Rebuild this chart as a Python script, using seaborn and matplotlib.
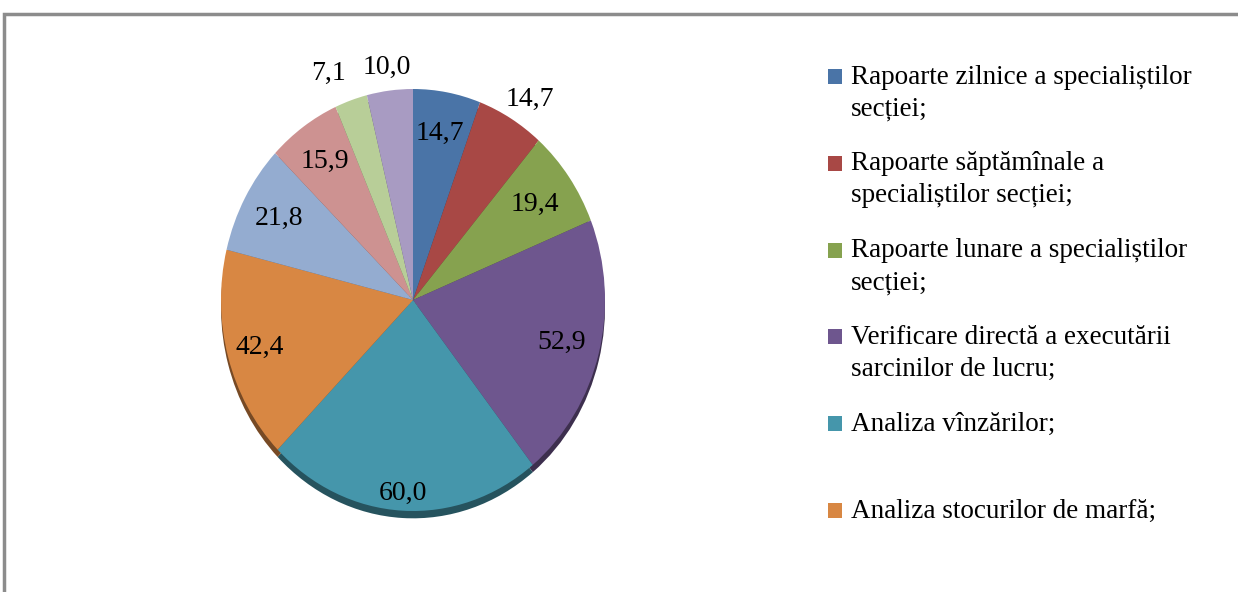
import numpy as np
import matplotlib
matplotlib.use("Agg")
import matplotlib.pyplot as plt
import seaborn as sns
from matplotlib.patches import Rectangle
from matplotlib.legend_handler import HandlerPatch

categories = [
    "Rapoarte zilnice a specialiștilor\nsecției;",
    "Rapoarte săptămînale a\nspecialiștilor secției;",
    "Rapoarte lunare a specialiștilor\nsecției;",
    "Verificare directă a executării\nsarcinilor de lucru;",
    "Analiza vînzărilor;\n ",
    "Analiza stocurilor de marfă;\n ",
    "Categoria 7",
    "Categoria 8",
    "Categoria 9",
    "Categoria 10",
]
values = [14.7, 14.7, 19.4, 52.9, 60.0, 42.4, 21.8, 15.9, 7.1, 10.0]
value_labels = ["14,7", "14,7", "19,4", "52,9", "60,0", "42,4", "21,8", "15,9", "7,1", "10,0"]
label_radius = [0.80, 1.13, 0.78, 0.80, 0.92, 0.83, 0.80, 0.80, 1.16, 1.11]
label_shift = [0, -2, 0, 0, 0, 0, 0, 0, 3.5, 0]   # degrees
legend_count = 6

colors = ["#4a74a7", "#a84845", "#86a24f", "#6e568e", "#4596ab",
          "#d88743", "#94acd0", "#cd9291", "#b8ce98", "#a89bc2"]

sns.set_theme(style="white")
plt.rcParams['font.family'] = ['Liberation Serif', 'DejaVu Serif']

fig = plt.figure(figsize=(12.38, 5.92), dpi=100)
fig.patch.set_facecolor("white")

# outer frame (only top and left visible)
fig.patches.append(Rectangle((4 / 1238, -0.1), 1.2, 0.1 + (1 - 14 / 592),
                             transform=fig.transFigure, fill=False,
                             edgecolor="#8c8c8c", linewidth=2.5))

cx, cy, rx, ry = 413, 300, 192, 211
ax = fig.add_axes([(cx - rx) / 1238, (592 - cy - ry) / 592, 2 * rx / 1238, 2 * ry / 592])

wedges, _ = ax.pie(values, colors=colors, startangle=90, counterclock=False,
                   radius=1.0,
                   shadow={'ox': 0.0, 'oy': -0.025, 'shade': 0.45, 'alpha': 1.0},
                   wedgeprops=dict(linewidth=0))
ax.set_aspect('auto')
ax.set_xlim(-1, 1)
ax.set_ylim(-1, 1)

for w, lab, r, sh in zip(wedges, value_labels, label_radius, label_shift):
    ang = np.deg2rad((w.theta1 + w.theta2) / 2 + sh)
    ax.text(r * np.cos(ang), r * np.sin(ang), lab, ha="center", va="center",
            fontsize=20, color="black")


# small square aligned with the first line of a two-line label
def top_square(legend, orig_handle, xdescent, ydescent, width, height, fontsize):
    s = width
    return Rectangle((-xdescent, -ydescent + height - s), s, s)


leg = fig.legend(wedges[:legend_count], categories[:legend_count],
                 loc="upper left", bbox_to_anchor=(814 / 1238, 1 - 51 / 592),
                 frameon=False, fontsize=19.5, handlelength=0.55, handleheight=2.5,
                 handletextpad=0.3, labelspacing=1.1, borderpad=0,
                 handler_map={w: HandlerPatch(patch_func=top_square) for w in wedges})
for t in leg.get_texts():
    t.set_linespacing(1.37)
    t.set_color("black")

fig.savefig("out.png", dpi=100, facecolor="white")
